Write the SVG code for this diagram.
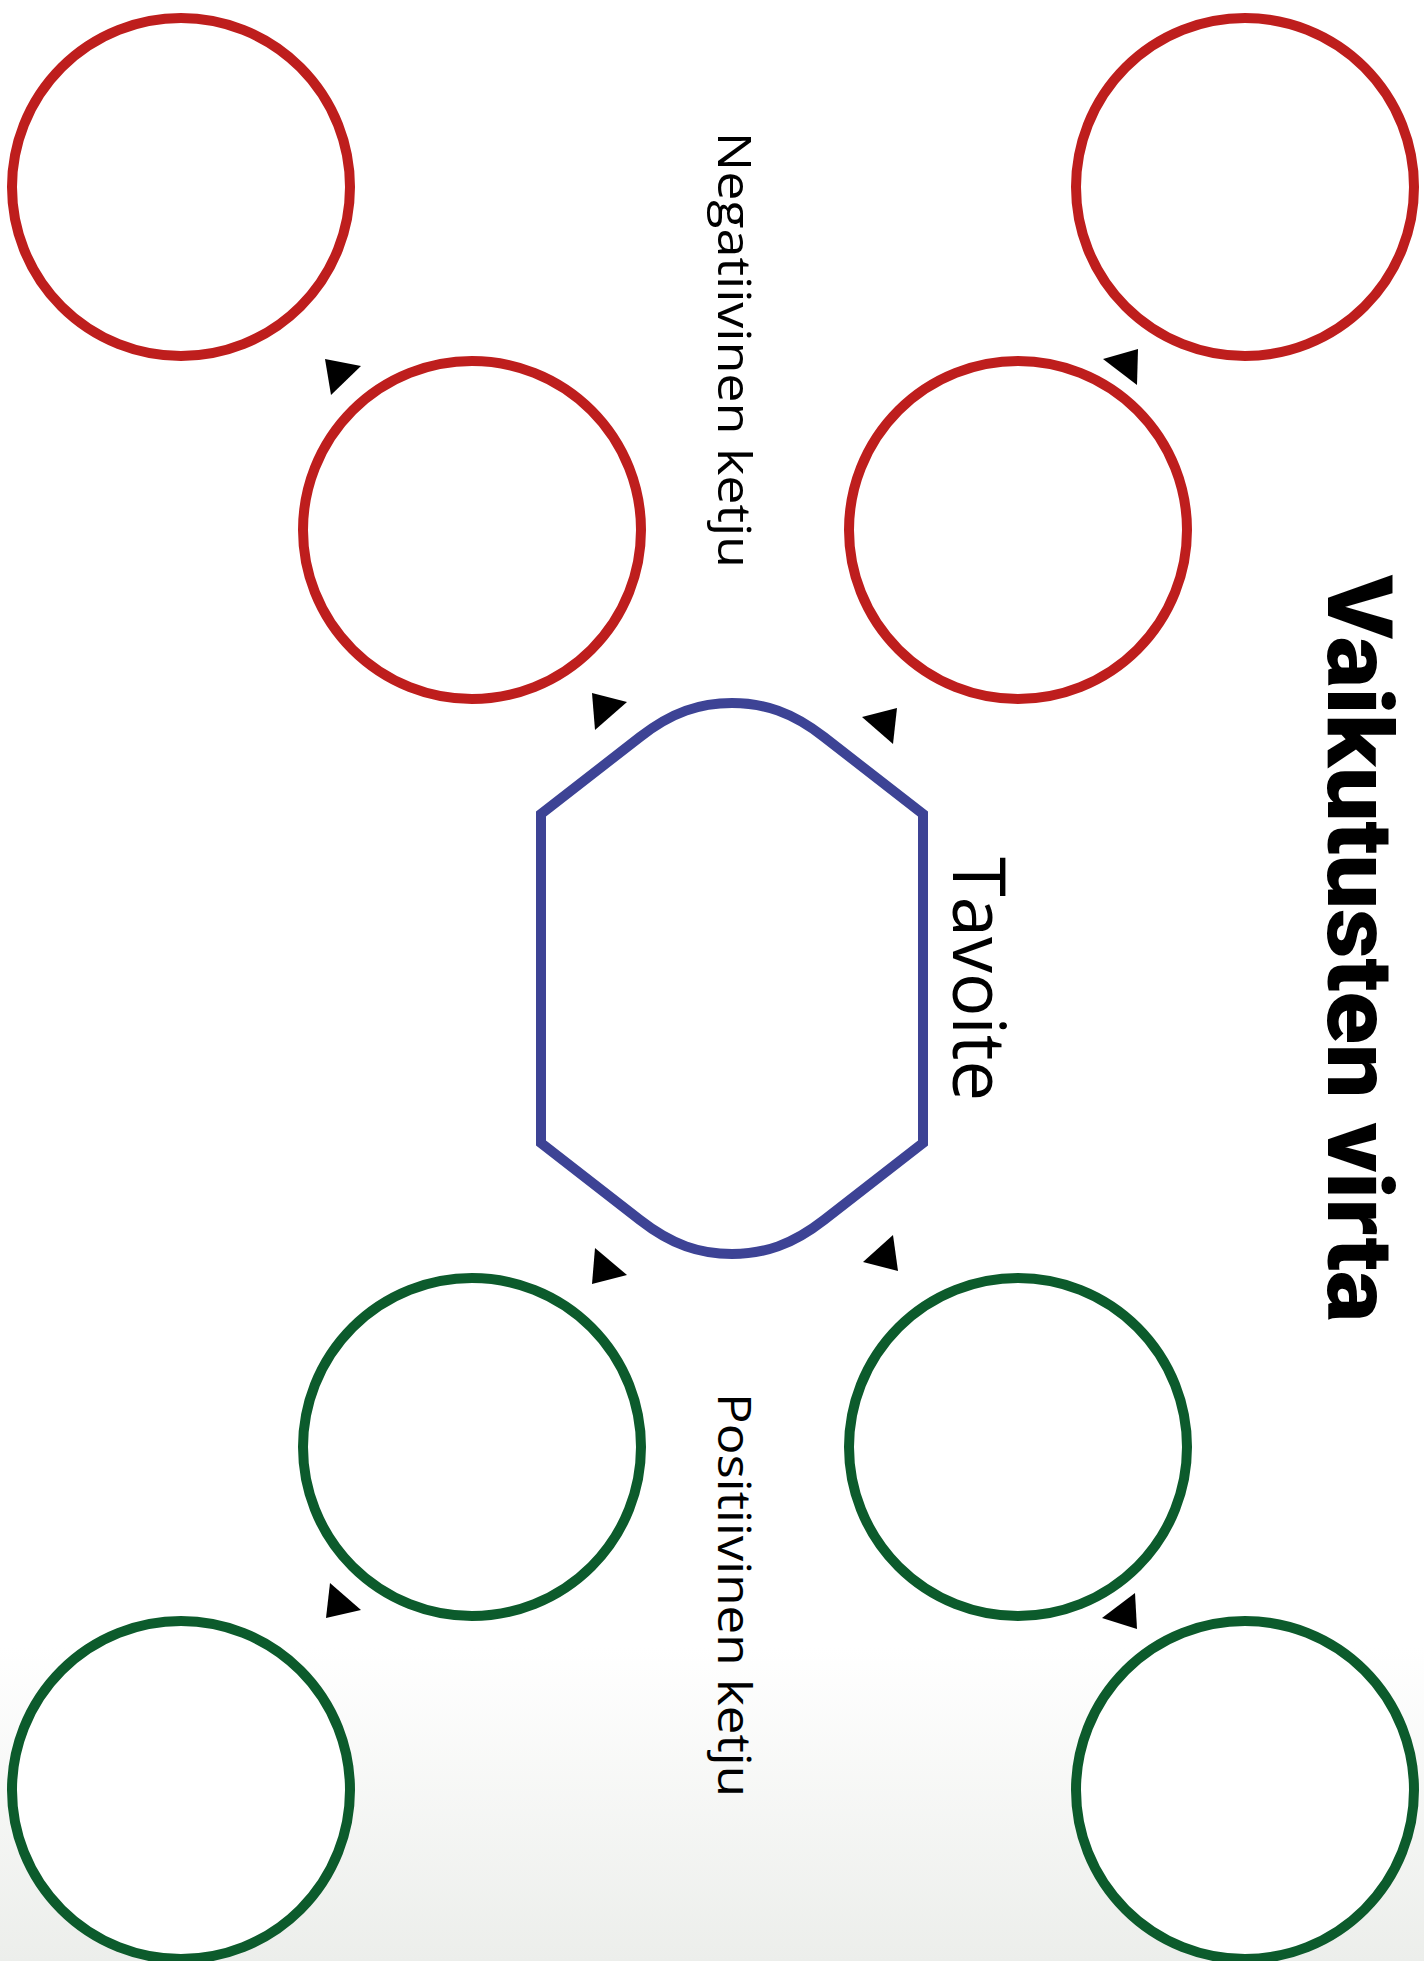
<svg xmlns="http://www.w3.org/2000/svg" width="1424" height="1961" viewBox="0 0 1424 1961">
  <defs>
    <linearGradient id="bg" x1="0" y1="0" x2="0" y2="1">
      <stop offset="0" stop-color="#ffffff"/>
      <stop offset="0.84" stop-color="#ffffff"/>
      <stop offset="1" stop-color="#eceeeb"/>
    </linearGradient>
    <style>
      .neg { fill: #ffffff; stroke: #be1e1d; stroke-width: 10; }
      .pos { fill: #ffffff; stroke: #0c5b2c; stroke-width: 10; }
      .goal { fill: #ffffff; stroke: #3d4395; stroke-width: 10; stroke-linejoin: miter; }
      .arrow { fill: #000000; stroke: none; }
      .label { font-family: "Open Sans", "Noto Sans", "Liberation Sans", sans-serif; fill: #000000; }
      .title { font-family: Roboto, Inter, "Liberation Sans", sans-serif; font-weight: 900; fill: #000000; }
    </style>
  </defs>
  <rect x="0" y="0" width="1424" height="1961" fill="url(#bg)"/>

  <g id="title">
    <text class="title" font-size="91" transform="translate(1328,575) rotate(90)" x="0" y="0" textLength="747" lengthAdjust="spacingAndGlyphs">Vaikutusten virta</text>
  </g>

  <g id="goal">
    <path class="goal" d="M541,814 L640,737 C672,712 700,703 732,703 C764,703 792,712 824,737 L923,814 L923,1143 L824,1220 C792,1245 764,1254 732,1254 C700,1254 672,1245 640,1220 L541,1143 Z"/>
    <text class="label" font-size="73" transform="translate(953,857) rotate(90)" x="0" y="0" textLength="244" lengthAdjust="spacingAndGlyphs">Tavoite</text>
  </g>

  <g id="neg-label">
    <text class="label" font-size="45" transform="translate(718,132) rotate(90)" x="0" y="0" textLength="436" lengthAdjust="spacingAndGlyphs">Negatiivinen ketju</text>
  </g>
  <g id="pos-label">
    <text class="label" font-size="45" transform="translate(718,1393) rotate(90)" x="0" y="0" textLength="404" lengthAdjust="spacingAndGlyphs">Positiivinen ketju</text>
  </g>

  <g id="neg-1"><circle class="neg" cx="472" cy="530" r="169"/></g>
  <g id="neg-2"><circle class="neg" cx="181" cy="187" r="169"/></g>
  <g id="neg-3"><circle class="neg" cx="1018" cy="530" r="169"/></g>
  <g id="neg-4"><circle class="neg" cx="1245" cy="187" r="169"/></g>
  <g id="pos-1"><circle class="pos" cx="472" cy="1447" r="169"/></g>
  <g id="pos-2"><circle class="pos" cx="181" cy="1790" r="169"/></g>
  <g id="pos-3"><circle class="pos" cx="1018" cy="1447" r="169"/></g>
  <g id="pos-4"><circle class="pos" cx="1245" cy="1790" r="169"/></g>

  <g id="connectors">
    <polygon class="arrow" points="325,359 361,366 331,395"/>
    <polygon class="arrow" points="592,693 627,702 595,730"/>
    <polygon class="arrow" points="1103,359 1138,349 1137,385"/>
    <polygon class="arrow" points="862,717 897,708 893,744"/>
    <polygon class="arrow" points="595,1248 627,1275 592,1284"/>
    <polygon class="arrow" points="863,1262 898,1271 893,1235"/>
    <polygon class="arrow" points="330,1583 361,1610 326,1618"/>
    <polygon class="arrow" points="1102,1618 1135,1593 1137,1629"/>
  </g>
</svg>
